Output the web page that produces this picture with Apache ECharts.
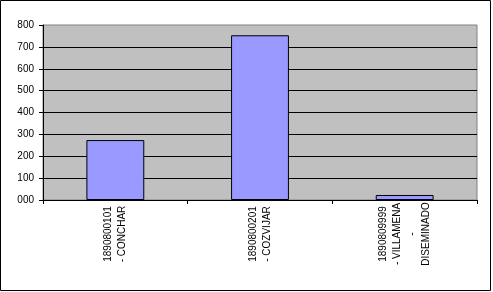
<!DOCTYPE html>
<html>
<head>
<meta charset="utf-8">
<script src="https://cdn.jsdelivr.net/npm/echarts@6/dist/echarts.min.js"></script>
<style>html,body{margin:0;padding:0;background:#fff}#c{width:493px;height:292px}</style>
</head>
<body>
<div id="c"></div>
<script>
var categories = ['1890800101\n- CONCHAR', '1890800201\n- COZVIJAR', '1890809999\n- VILLAMENA\n-\nDISEMINADO'];
var values = [274, 753, 23];
var yMin = 0, yMax = 800, yInterval = 100;

var chart = echarts.init(document.getElementById('c'), null, {renderer: 'canvas'});
chart.setOption({
  animation: false,
  backgroundColor: '#ffffff',
  textStyle: {fontFamily: 'Liberation Sans, Arial, sans-serif'},
  graphic: [{
    type: 'rect', shape: {x: 0.5, y: 0.5, width: 490, height: 290},
    style: {fill: 'none', stroke: '#000', lineWidth: 1}, silent: true
  }],
  grid: {
    left: 43, right: 16, top: 25, bottom: 92,
    show: true, backgroundColor: '#C0C0C0', borderColor: '#808080', borderWidth: 1
  },
  xAxis: {
    type: 'category',
    data: categories,
    axisLine: {lineStyle: {color: '#000', width: 1}},
    axisTick: {show: true, length: 4, lineStyle: {color: '#000'}},
    axisLabel: {
      rotate: 90, align: 'center', margin: 34, interval: 0,
      color: '#000', fontSize: 10, lineHeight: 14.5,
      fontFamily: 'Liberation Sans, Arial, sans-serif'
    }
  },
  yAxis: {
    type: 'value', min: yMin, max: yMax, interval: yInterval,
    axisLine: {show: true, lineStyle: {color: '#000', width: 1}},
    axisTick: {show: true, length: 4, lineStyle: {color: '#000'}},
    axisLabel: {
      color: '#000', fontSize: 10, margin: 9,
      fontFamily: 'Liberation Sans, Arial, sans-serif',
      formatter: function (v) { return String(v).padStart(3, '0'); }
    },
    splitLine: {show: true, showMinLine: false, showMaxLine: false, lineStyle: {color: '#000', width: 1}}
  },
  series: [{
    type: 'bar',
    data: values,
    barWidth: '40%',
    itemStyle: {color: '#9999FF', borderColor: '#000', borderWidth: 1}
  }]
});
</script>
</body>
</html>
